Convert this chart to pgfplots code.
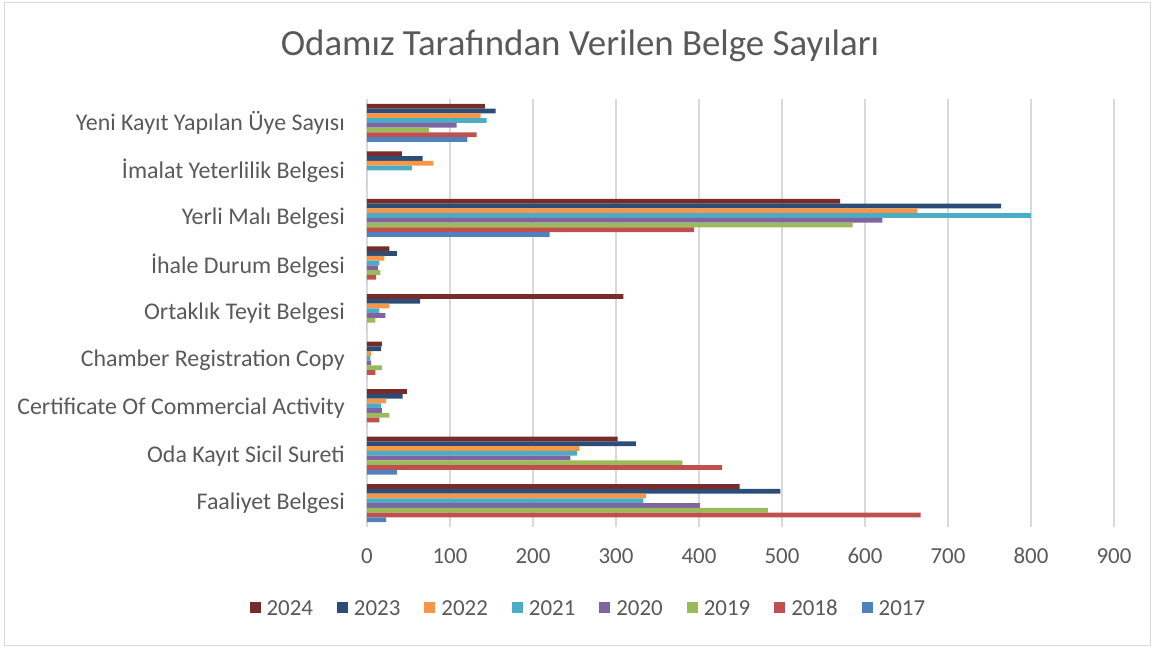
\documentclass[border=0pt]{standalone}
\usepackage{pgfplots}
\pgfplotsset{compat=1.18}
\usepackage{fontspec}
\setmainfont{Carlito}
\definecolor{c17}{HTML}{4F81BD}
\definecolor{c18}{HTML}{C0504D}
\definecolor{c19}{HTML}{9BBB59}
\definecolor{c20}{HTML}{8064A2}
\definecolor{c21}{HTML}{4BACC6}
\definecolor{c22}{HTML}{F79646}
\definecolor{c23}{HTML}{2C4D75}
\definecolor{c24}{HTML}{772C2A}
\definecolor{txt}{HTML}{595959}
\definecolor{grd}{HTML}{D9D9D9}
\begin{document}
\begin{tikzpicture}
\path (-367bp,-121bp) rectangle (788bp,527bp);
\draw[color=grd, line width=1bp] (-362bp,-118bp) rectangle (783bp,524bp);
\node[font=\fontsize{37}{42}\selectfont, text=txt] at (213bp,481bp) {Odamız Tarafından Verilen Belge Sayıları};
\begin{axis}[
 at={(0,0)}, anchor=south west,
 scale only axis, width=747bp, height=428bp,
 xmin=0, xmax=900, ymin=-0.5, ymax=8.5,
 xtick={0,100,...,900},
 ytick={0,...,8},
 yticklabels={Faaliyet Belgesi, Oda Kayıt Sicil Sureti, Certificate Of Commercial Activity, Chamber Registration Copy, Ortaklık Teyit Belgesi, İhale Durum Belgesi, Yerli Malı Belgesi, İmalat Yeterlilik Belgesi, Yeni Kayıt Yapılan Üye Sayısı},
 axis line style={draw=none},
 major tick length=0pt,
 xmajorgrids, major grid style={color=grd, line width=1.5bp},
 xbar, bar width=4.75bp,
 /pgf/number format/assume math mode=true,
 tick label style={text=txt},
 yticklabel style={font=\fontsize{24}{28}\selectfont, anchor=east, inner sep=0pt, xshift=-22bp},
 xticklabel style={font=\fontsize{23}{27}\selectfont, anchor=north, inner sep=0pt, yshift=-21bp},
 legend columns=8,
 legend style={draw=none, at={(0.295,-0.19)}, anchor=center, font=\fontsize{23}{27}\selectfont, text=txt,
   nodes={inner sep=0pt, text height=15bp, text depth=0pt},
   /tikz/every odd column/.append style={column sep=6bp},
   /tikz/every even column/.append style={column sep=24bp}},
 legend image code/.code={\fill[#1] (0bp,-4.5bp) rectangle (11bp,6.5bp);},
 every axis plot/.append style={draw=none},
]
\addplot[fill=c24, bar shift=16.625bp] coordinates {(449,0) (302,1) (48,2) (18,3) (309,4) (27,5) (570,6) (42,7) (142,8)};
\addplot[fill=c23, bar shift=11.875bp] coordinates {(498,0) (324,1) (43,2) (17,3) (64,4) (36,5) (764,6) (67,7) (155,8)};
\addplot[fill=c22, bar shift=7.125bp] coordinates {(336,0) (256,1) (23,2) (5,3) (27,4) (21,5) (663,6) (80,7) (137,8)};
\addplot[fill=c21, bar shift=2.375bp] coordinates {(333,0) (253,1) (17,2) (4,3) (15,4) (15,5) (800,6) (54,7) (144,8)};
\addplot[fill=c20, bar shift=-2.375bp] coordinates {(401,0) (245,1) (18,2) (5,3) (22,4) (13,5) (621,6) (0,7) (108,8)};
\addplot[fill=c19, bar shift=-7.125bp] coordinates {(483,0) (380,1) (27,2) (18,3) (10,4) (16,5) (585,6) (0,7) (75,8)};
\addplot[fill=c18, bar shift=-11.875bp] coordinates {(667,0) (428,1) (15,2) (10,3) (0,4) (11,5) (394,6) (0,7) (132,8)};
\addplot[fill=c17, bar shift=-16.625bp] coordinates {(23,0) (36,1) (0,2) (0,3) (0,4) (0,5) (220,6) (0,7) (121,8)};
\legend{2024,2023,2022,2021,2020,2019,2018,2017}
\end{axis}
\end{tikzpicture}
\end{document}
